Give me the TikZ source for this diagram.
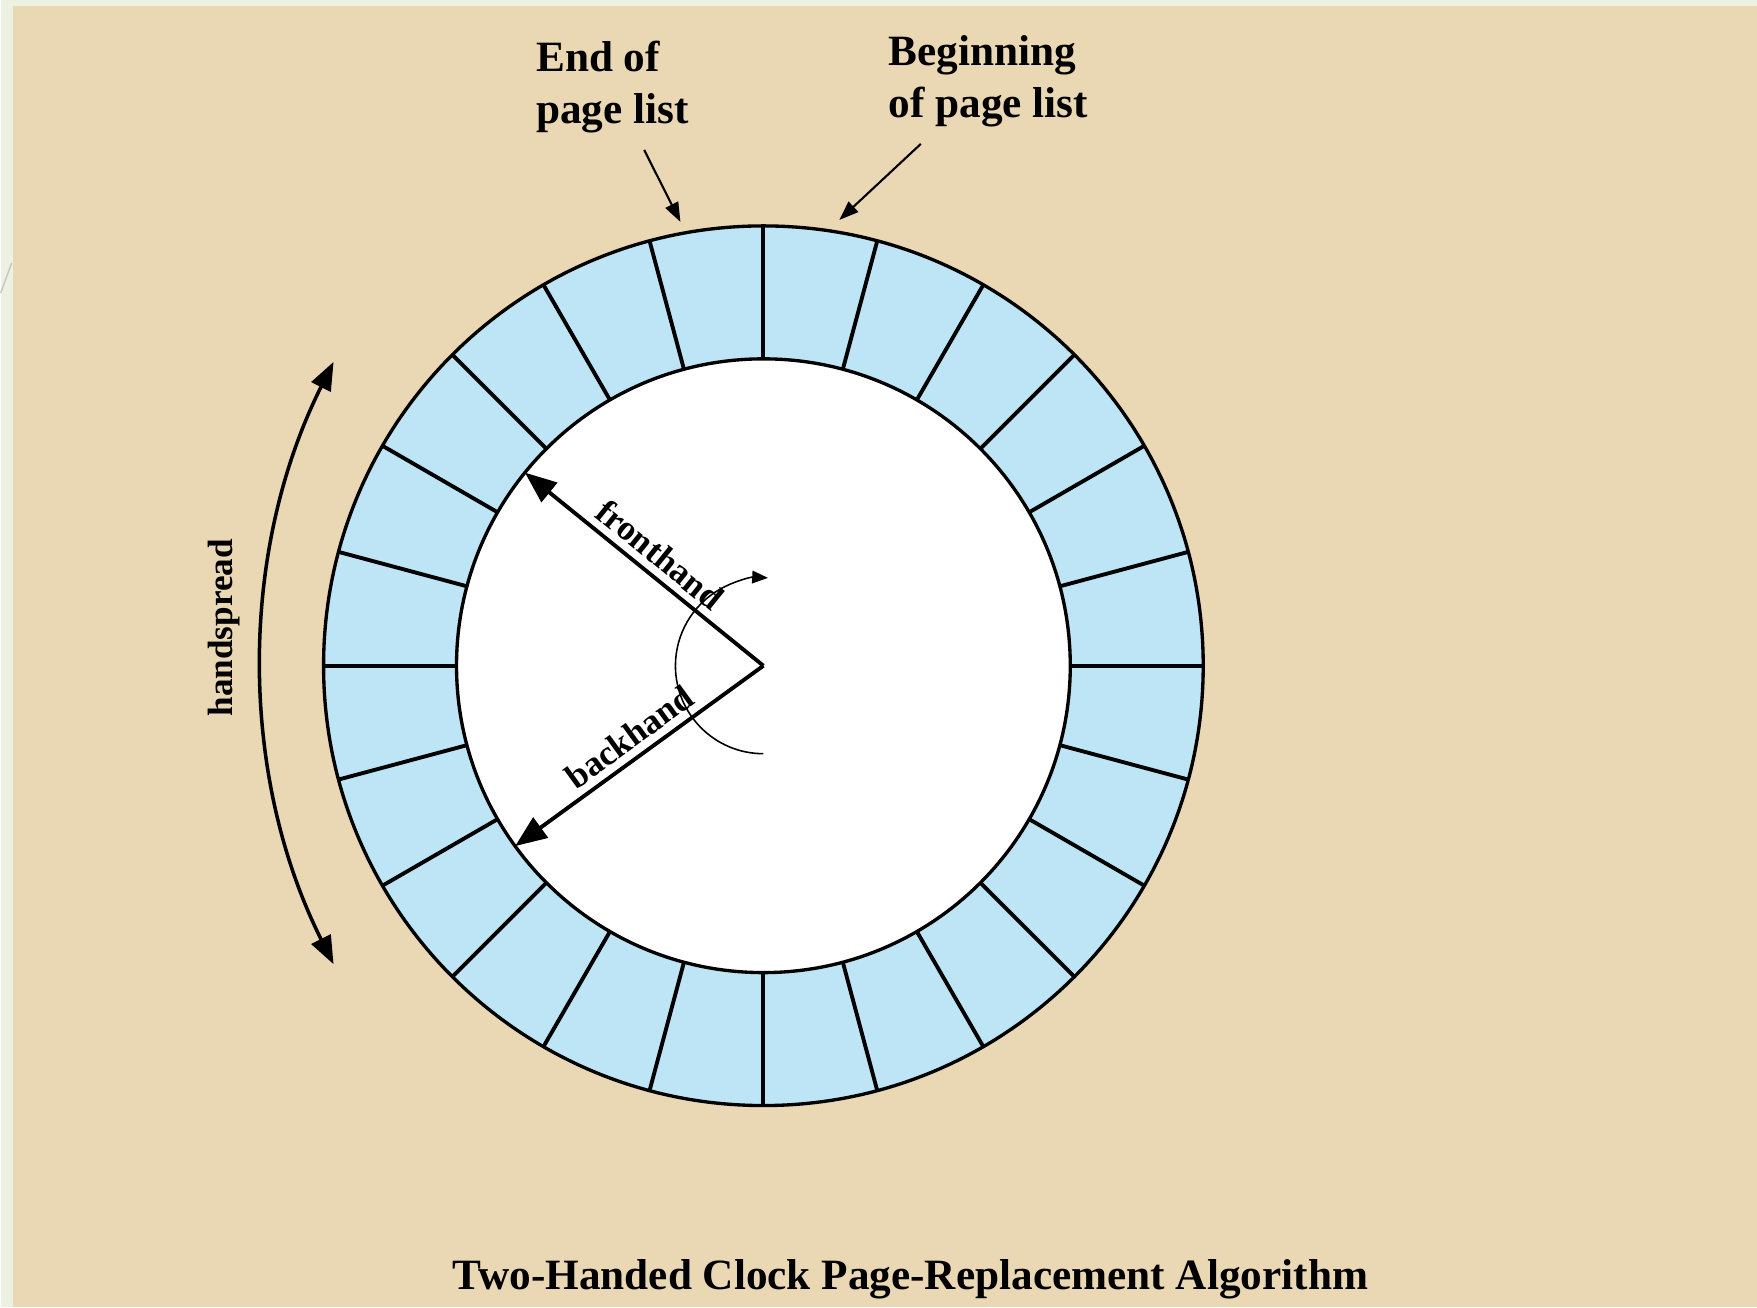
\documentclass[tikz,border=0pt]{standalone}
\usepackage{fontspec}
\setmainfont{Liberation Serif}
\usetikzlibrary{arrows.meta}
\definecolor{parchment}{RGB}{234,216,180}
\definecolor{slidegreen}{RGB}{236,241,226}
\definecolor{pageblue}{RGB}{190,229,245}
\tikzset{
  ringline/.style={draw=black, line width=1.1pt},
  rimline/.style={draw=black, line width=0.95pt},
  handline/.style={-{Triangle[length=9pt,width=7pt]}, line width=1.1pt},
  pointer/.style={-{Triangle[length=5.5pt,width=4pt]}, line width=0.6pt, shorten <=3pt},
  sweep/.style={-{Triangle[length=4.5pt,width=3.6pt]}, line width=0.45pt},
  spread/.style={{Triangle[length=8pt,width=6pt]}-{Triangle[length=8pt,width=6pt]}, line width=1pt},
  toplabel/.style={align=left, inner sep=2pt, font=\bfseries\fontsize{12.3}{14.7}\selectfont},
  handlabel/.style={font=\bfseries\fontsize{10}{12}\selectfont, inner sep=2pt}
}
\begin{document}
\begin{tikzpicture}[x=0.01cm, y=0.01cm]
  % slide background
  \fill[slidegreen] (0,0) rectangle (1757,1308);
  \fill[parchment] (12,0) rectangle (1757,1302);
  \draw[gray!45, line width=0.4pt] (0,1015) -- (11,1045);

  % ring of pages
  \begin{scope}[shift={(763,642)}]
    \coordinate (hub) at (0,0);
    \fill[pageblue, even odd rule] (hub) circle[radius=440] (hub) circle[radius=307];
    \fill[white] (hub) circle[radius=307];
    \foreach \a in {0,15,...,345}
      \draw[ringline] (\a:307) -- (\a:440);
    \draw[rimline] (hub) circle[radius=440] (hub) circle[radius=307];

    % the two hands
    \coordinate (fronttip) at (141:307);
    \coordinate (backtip) at (216:307);
    \draw[handline] (hub) -- node[handlabel, sloped, above, pos=0.49] (fronthand) {fronthand} (fronttip);
    \draw[handline] (hub) -- node[handlabel, sloped, above, pos=0.49] (backhand) {backhand} (backtip);
    \coordinate (sweepstart) at (270:88);
    \draw[sweep] (sweepstart) arc[start angle=270, end angle=87, radius=88];
  \end{scope}

  % handspread
  \coordinate (spreadtop) at (333,946);
  \draw[spread] (spreadtop) arc[start angle=153.4, end angle=206.6, radius=673];
  \node[handlabel, rotate=90] (spreadlbl) at (223,680) {handspread};

  % page list ends
  \node[toplabel] (endlbl) at (612,1221) {End of\\page list};
  \node[toplabel] (beginlbl) at (988,1227) {Beginning\\of page list};
  \coordinate (endtip) at (680,1086);
  \coordinate (begintip) at (839,1088);
  \draw[pointer] (endlbl) -- (endtip);
  \draw[pointer, shorten <=4pt] (beginlbl) -- (begintip);

  \node[toplabel] (caption) at (910,28) {Two-Handed Clock Page-Replacement Algorithm};
\end{tikzpicture}
\end{document}
